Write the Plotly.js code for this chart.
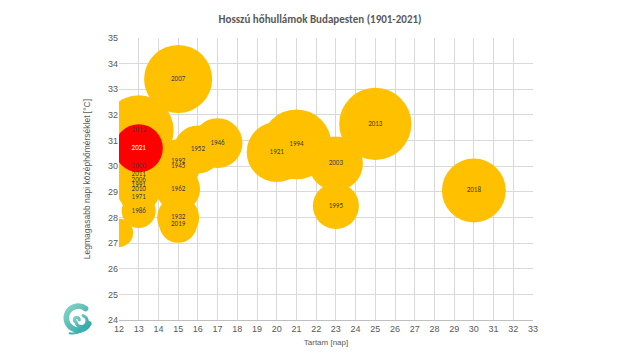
<!DOCTYPE html>
<html>
<head>
<meta charset="utf-8">
<script src="https://cdn.plot.ly/plotly-3.0.1.min.js"></script>
<style>html,body{margin:0;padding:0;background:#fff}#chart{width:640px;height:360px}</style>
</head>
<body>
<div id="chart"></div>
<script>
// Heat waves: duration [days], max daily mean temperature [°C], bubble size value
const years    = ["",   "1986","1971","2010","1991","2006","2011","2000","2012","2019","1932","1962","1945","1992","2007","1952","1946","1921","1994","2003","1995","2013","2018","2021"];
const duration = [12,   13,    13,    13,    13,    13,    13,    13,    13,    15,    15,    15,    15,    15,    15,    16,    17,    20,    21,    23,    23,    25,    30,    13];
const maxTemp  = [27.4, 28.25, 28.8,  29.1,  29.25, 29.45, 29.7,  30.0,  31.4,  27.75, 28.0,  29.1,  30.0,  30.2,  33.4,  30.65, 30.9,  30.55, 30.85, 30.1,  28.45, 31.65, 29.05, 30.7];
const bubble   = [20,   29,    32,    48,    48,    48,    58,    68,    122,   36,    44,    48,    48,    48,    116,   58,    62,    90,    122,   73,    53,    130,   102,   58];
const xTicks = [12,13,14,15,16,17,18,19,20,21,22,23,24,25,26,27,28,29,30,31,32,33];
const yTicks = [24,25,26,27,28,29,30,31,32,33,34,35];

const highlight = "2021";
const colors = years.map(y => y === highlight ? "#ff0000" : "#ffc000");
const textColors = years.map(y => y === highlight ? "#ffffff" : "#404040");

const logo = "data:image/svg+xml;utf8," + encodeURIComponent(
 "<svg xmlns='http://www.w3.org/2000/svg' viewBox='0 0 40 46'>" +
 "<defs><linearGradient id='g' x1='0' y1='0' x2='1' y2='1'><stop offset='0' stop-color='#86d3c6'/><stop offset='1' stop-color='#2ea5a8'/></linearGradient></defs>" +
 "<path d='M30 9 A15 15 0 1 0 34 28' fill='none' stroke='url(#g)' stroke-width='7' stroke-linecap='round'/>" +
 "<path d='M22 23 a3 3 0 1 0 -4 3 a7 7 0 1 0 9 -8' fill='none' stroke='url(#g)' stroke-width='4' stroke-linecap='round'/>" +
 "<path d='M34 28 Q26 42 10 40' fill='none' stroke='#3fb0ab' stroke-width='2.5' stroke-linecap='round'/>" +
 "</svg>");

const trace = {
  type: "scatter",
  mode: "markers+text",
  x: duration,
  y: maxTemp,
  text: years,
  textposition: "middle center",
  textfont: {family: "Carlito, 'Liberation Sans Narrow', 'Liberation Sans', sans-serif", size: 7, color: textColors},
  marker: {
    size: bubble,
    sizemode: "area",
    sizeref: 0.05,
    color: colors,
    opacity: 1,
    line: {width: 0}
  },
  cliponaxis: true,
  hoverinfo: "x+y+text"
};

const layout = {
  width: 640, height: 360,
  margin: {l: 119, r: 107, t: 38, b: 40},
  paper_bgcolor: "#ffffff",
  plot_bgcolor: "#ffffff",
  showlegend: false,
  font: {family: "'Liberation Sans', Arial, sans-serif", color: "#595959", size: 9},
  title: {
    text: "<b>Hosszú hőhullámok Budapesten (1901-2021)</b>",
    x: 0.5, xanchor: "center", y: 0.947, yanchor: "middle",
    font: {family: "Carlito, 'Liberation Sans Narrow', 'Liberation Sans', sans-serif", size: 11, color: "#595959"}
  },
  xaxis: {
    range: [12, 33],
    tickvals: xTicks,
    ticktext: xTicks.map(String),
    showgrid: true, gridcolor: "#d9d9d9", gridwidth: 1,
    zeroline: false,
    showline: true, linecolor: "#bfbfbf", linewidth: 1,
    ticks: "", ticklen: 0,
    tickfont: {family: "'Liberation Sans', Arial, sans-serif", size: 9, color: "#595959"},
    title: {text: "Tartam [nap]", font: {family: "'Liberation Sans', Arial, sans-serif", size: 8, color: "#595959"}, standoff: 6},
    fixedrange: true
  },
  yaxis: {
    range: [24, 35],
    tickvals: yTicks,
    ticktext: yTicks.map(String),
    showgrid: true, gridcolor: "#d9d9d9", gridwidth: 1,
    zeroline: false,
    showline: false,
    ticks: "", ticklen: 0,
    tickfont: {family: "'Liberation Sans', Arial, sans-serif", size: 9, color: "#595959"},
    title: {text: "Legmagasabb napi középhőmérséklet [°C]", font: {family: "'Liberation Sans', Arial, sans-serif", size: 8.5, color: "#595959"}, standoff: 16},
    fixedrange: true
  },
  images: [{
    source: logo,
    xref: "paper", yref: "paper",
    x: -0.14, y: 0.066,
    sizex: 0.08, sizey: 0.13,
    xanchor: "left", yanchor: "top",
    sizing: "contain", layer: "above"
  }]
};

Plotly.newPlot("chart", [trace], layout, {displayModeBar: false, staticPlot: true});
</script>
</body>
</html>
